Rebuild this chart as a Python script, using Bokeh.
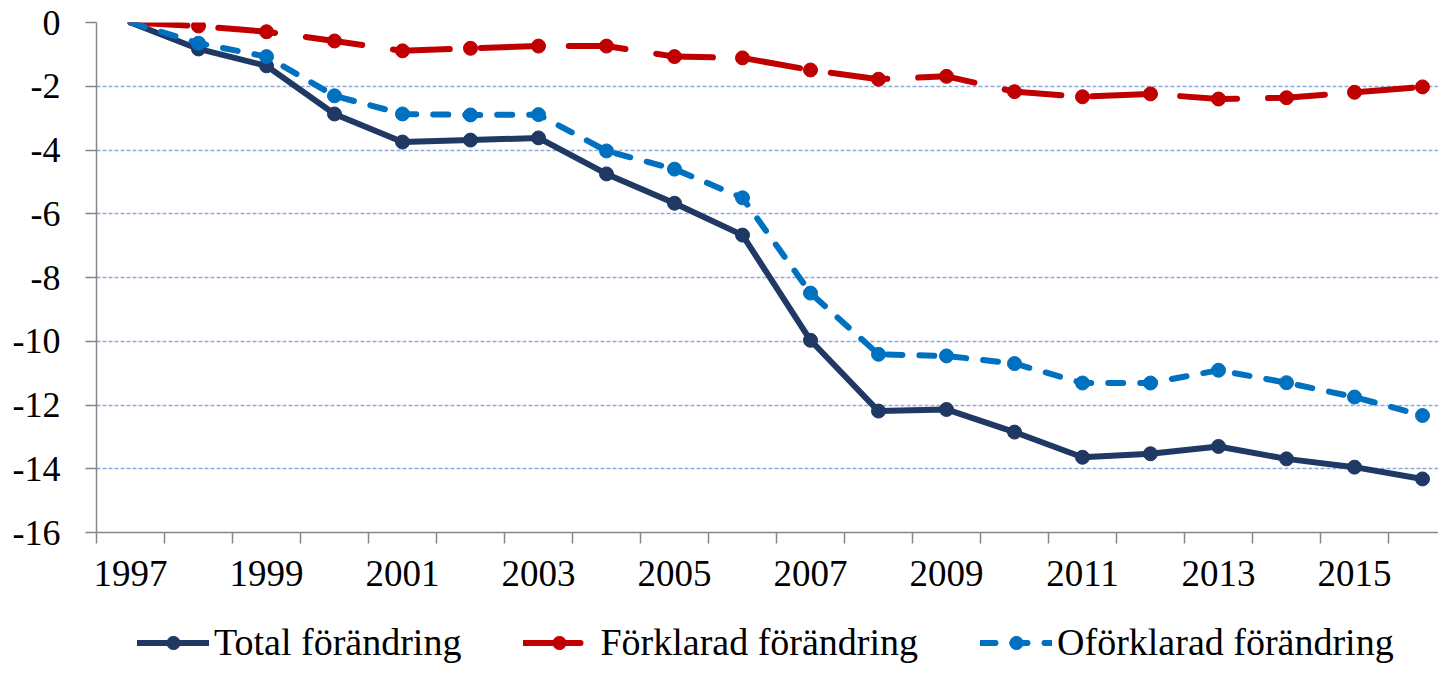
from bokeh.plotting import figure
from bokeh.models import Range1d, FixedTicker, Legend, LegendItem
from bokeh.layouts import column
from bokeh.embed import file_html
from bokeh.resources import INLINE

years = list(range(1997, 2017))
total = [0, -0.83, -1.36, -2.87, -3.75, -3.69, -3.62, -4.75, -5.67, -6.67,
         -9.97, -12.19, -12.14, -12.85, -13.64, -13.53, -13.30, -13.69, -13.95, -14.32]
forklarad = [0, -0.11, -0.29, -0.58, -0.89, -0.81, -0.74, -0.74, -1.07, -1.11,
             -1.49, -1.78, -1.69, -2.17, -2.33, -2.24, -2.40, -2.36, -2.19, -2.02]
oforklarad = [0, -0.65, -1.07, -2.30, -2.87, -2.90, -2.89, -4.03, -4.60, -5.50,
              -8.49, -10.41, -10.46, -10.70, -11.31, -11.31, -10.91, -11.30, -11.75, -12.33]
series_names = ["Total förändring", "Förklarad förändring", "Oförklarad förändring"]
x_tick_labels = [str(y) for y in range(1997, 2017, 2)]
y_ticks = list(range(-16, 1, 2))

FONT = "Liberation Serif"
colors = ["#1F3864", "#C00000", "#0070C0"]
dashes = ["solid", "57 31", "15 17"]
LW = 6
MS = 14

p = figure(width=1438, height=600, output_backend="svg", toolbar_location=None,
           x_range=Range1d(1996.5, 1996.5 + 1342 / 68.0), y_range=Range1d(-16, 0),
           min_border_left=96, min_border_right=0, min_border_top=22, min_border_bottom=68)
p.outline_line_color = None
p.background_fill_color = "white"
p.border_fill_color = "white"

p.xgrid.grid_line_color = None
p.ygrid.grid_line_color = "#8EAADB"
p.ygrid.grid_line_dash = "4 2"
p.ygrid.grid_line_width = 1.4

p.xaxis.ticker = FixedTicker(ticks=[int(t) for t in x_tick_labels],
                             minor_ticks=[y - 0.5 for y in years])
p.xaxis.major_label_overrides = {int(t): t for t in x_tick_labels}
p.xaxis.major_tick_out = 0
p.xaxis.major_tick_in = 0
p.xaxis.minor_tick_out = 11
p.xaxis.minor_tick_in = 0
p.xaxis.minor_tick_line_color = "#868686"
p.xaxis.minor_tick_line_width = 1.5
p.xaxis.axis_line_color = "#868686"
p.xaxis.axis_line_width = 1.5
p.xaxis.major_label_text_font = FONT
p.xaxis.major_label_text_font_size = "37px"
p.xaxis.major_label_text_color = "black"
p.xaxis.major_label_standoff = 17

p.yaxis.ticker = FixedTicker(ticks=y_ticks, minor_ticks=[])
p.yaxis.major_label_overrides = {t: str(t) for t in y_ticks}
p.yaxis.major_tick_out = 11
p.yaxis.major_tick_in = 0
p.yaxis.major_tick_line_color = "#868686"
p.yaxis.major_tick_line_width = 1.5
p.yaxis.axis_line_color = "#868686"
p.yaxis.axis_line_width = 1.5
p.yaxis.major_label_text_font = FONT
p.yaxis.major_label_text_font_size = "36px"
p.yaxis.major_label_text_color = "black"
p.yaxis.major_label_standoff = 25

for vals, c, d in zip([total, forklarad, oforklarad], colors, dashes):
    p.line(years, vals, line_color=c, line_width=LW, line_dash=d,
           line_cap="round", line_join="round")
    p.scatter(years[1:], vals[1:], marker="circle", size=MS, fill_color=c, line_color=c)

# legend strip below the chart (its renderers lie outside its visible ranges)
lf = figure(width=1438, height=64, output_backend="svg", toolbar_location=None,
            min_border=0, x_axis_location=None, y_axis_location=None,
            x_range=Range1d(0, 1), y_range=Range1d(0, 1))
lf.outline_line_color = None
lf.grid.visible = False
items = []
for vals, name, c, d in zip([total, forklarad, oforklarad], series_names, colors, dashes):
    ln = lf.line(years, vals, line_color=c, line_width=LW, line_dash=d, line_cap="round")
    sc = lf.scatter(years, vals, marker="circle", size=MS, fill_color=c, line_color=c)
    items.append(LegendItem(label=name, renderers=[ln, sc]))
legend = Legend(items=items, orientation="horizontal", location=(41, 0),
                label_text_font=FONT, label_text_font_size="38px",
                label_text_color="black", glyph_width=72, glyph_height=33,
                label_standoff=5, spacing=62, padding=0, margin=0,
                border_line_color=None, background_fill_alpha=0)
lf.add_layout(legend, "center")

layout = column(p, lf, spacing=0)
open("out.html", "w").write(file_html(layout, INLINE))
